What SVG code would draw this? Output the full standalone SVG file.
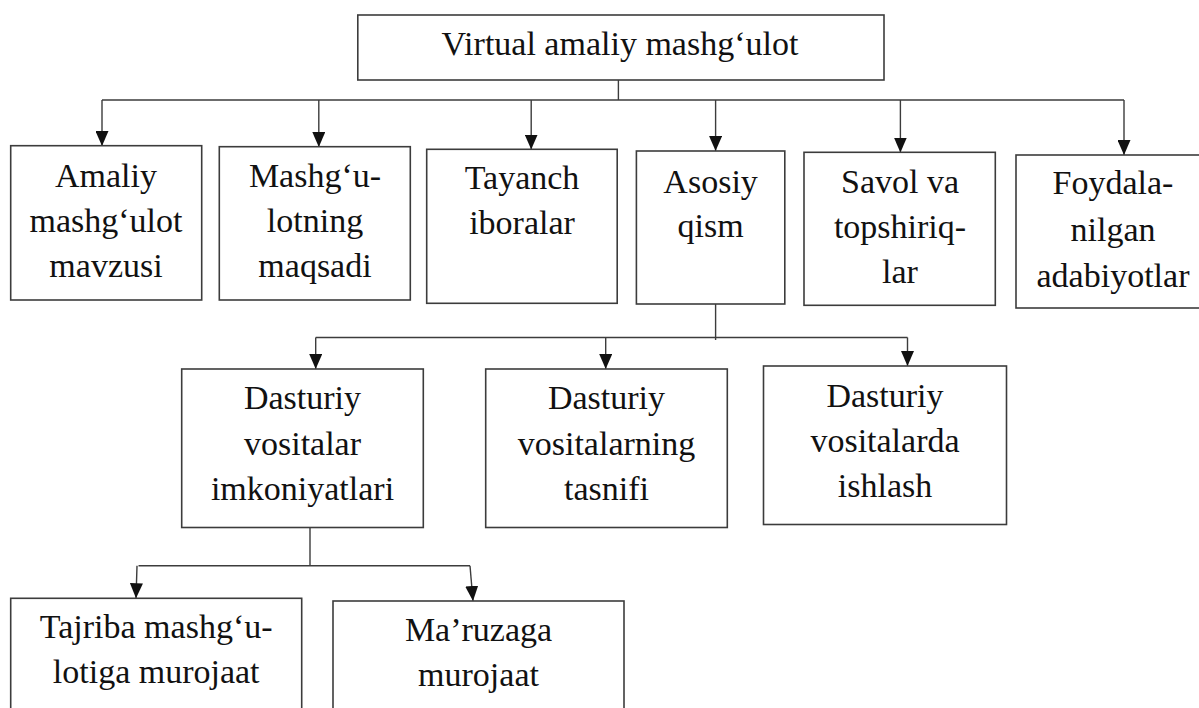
<svg xmlns="http://www.w3.org/2000/svg" width="1199" height="708" viewBox="0 0 1199 708">
<style>
.box{fill:#fff;stroke:#3c3c3c;stroke-width:1.6}
.t{font-family:'Liberation Serif','Times New Roman',serif;font-size:34px;fill:#111;text-anchor:middle}
.c{fill:none;stroke:#3c3c3c;stroke-width:1.4}
</style>
<defs>
<marker id="ah" markerUnits="userSpaceOnUse" markerWidth="15" markerHeight="13" viewBox="0 0 15 13" refX="15" refY="6.5" orient="auto">
<path d="M0,0 L15,6.5 L0,13 z" fill="#111"/>
</marker>
</defs>
<rect width="1199" height="708" fill="#fff"/>
<g id="connectors">
<path class="c" d="M618.4,80 V100 M102,100 H1124"/>
<line class="c" x1="102" y1="100" x2="102" y2="146" marker-end="url(#ah)"/>
<line class="c" x1="318.8" y1="100" x2="318.8" y2="147" marker-end="url(#ah)"/>
<line class="c" x1="531.2" y1="100" x2="531.2" y2="149.5" marker-end="url(#ah)"/>
<line class="c" x1="715.6" y1="100" x2="715.6" y2="151" marker-end="url(#ah)"/>
<line class="c" x1="900.4" y1="100" x2="900.4" y2="152.5" marker-end="url(#ah)"/>
<line class="c" x1="1124" y1="100" x2="1124" y2="155" marker-end="url(#ah)"/>
<path class="c" d="M715.6,304 V340 M315.7,337.5 H907.5"/>
<line class="c" x1="315.7" y1="337.5" x2="315.7" y2="369" marker-end="url(#ah)"/>
<line class="c" x1="605.7" y1="337.5" x2="605.7" y2="369" marker-end="url(#ah)"/>
<line class="c" x1="907.5" y1="337.5" x2="907.5" y2="366" marker-end="url(#ah)"/>
<path class="c" d="M310,527.5 V565.7 M138.5,565.7 H470"/>
<line class="c" x1="137" y1="565.7" x2="136" y2="598.3" marker-end="url(#ah)"/>
<line class="c" x1="470" y1="565.7" x2="473" y2="601" marker-end="url(#ah)"/>
</g>
<g id="n0">
<rect class="box" x="357.8" y="15" width="526.2" height="65"/>
<text class="t" x="620" y="55">Virtual amaliy mashg‘ulot</text>
</g>
<g id="n1">
<rect class="box" x="10.7" y="145.7" width="191" height="154.3"/>
<text class="t" x="106" y="186.7">Amaliy</text>
<text class="t" x="106" y="231.7">mashg‘ulot</text>
<text class="t" x="106" y="276.7">mavzusi</text>
</g>
<g id="n2">
<rect class="box" x="219.3" y="146.7" width="191" height="153.3"/>
<text class="t" x="315" y="186.7">Mashg‘u-</text>
<text class="t" x="315" y="231.7">lotning</text>
<text class="t" x="315" y="276.7">maqsadi</text>
</g>
<g id="n3">
<rect class="box" x="426.7" y="149.3" width="190.5" height="154"/>
<text class="t" x="522" y="189">Tayanch</text>
<text class="t" x="522" y="233.5">iboralar</text>
</g>
<g id="n4">
<rect class="box" x="636.4" y="151" width="148.4" height="153"/>
<text class="t" x="710.6" y="192.7">Asosiy</text>
<text class="t" x="710.6" y="237">qism</text>
</g>
<g id="n5">
<rect class="box" x="804" y="152.3" width="191.3" height="153"/>
<text class="t" x="900" y="192.7">Savol va</text>
<text class="t" x="900" y="238.3">topshiriq-</text>
<text class="t" x="900" y="283.3">lar</text>
</g>
<g id="n6">
<rect class="box" x="1016" y="155" width="194" height="153"/>
<text class="t" x="1113" y="194">Foydala-</text>
<text class="t" x="1113" y="240.5">nilgan</text>
<text class="t" x="1113" y="286.5">adabiyotlar</text>
</g>
<g id="n7">
<rect class="box" x="181.7" y="369" width="241.6" height="158.5"/>
<text class="t" x="302.5" y="409">Dasturiy</text>
<text class="t" x="302.5" y="455">vositalar</text>
<text class="t" x="302.5" y="500">imkoniyatlari</text>
</g>
<g id="n8">
<rect class="box" x="485.7" y="369" width="241.6" height="158.5"/>
<text class="t" x="606.5" y="409">Dasturiy</text>
<text class="t" x="606.5" y="455">vositalarning</text>
<text class="t" x="606.5" y="500">tasnifi</text>
</g>
<g id="n9">
<rect class="box" x="763.5" y="366" width="243" height="158.5"/>
<text class="t" x="885" y="406.5">Dasturiy</text>
<text class="t" x="885" y="452">vositalarda</text>
<text class="t" x="885" y="497">ishlash</text>
</g>
<g id="n10">
<rect class="box" x="10.7" y="598.3" width="291" height="130"/>
<text class="t" x="156.2" y="638.3">Tajriba mashg‘u-</text>
<text class="t" x="156.2" y="683.3">lotiga murojaat</text>
</g>
<g id="n11">
<rect class="box" x="333" y="601" width="291" height="130"/>
<text class="t" x="478.5" y="640.7">Ma’ruzaga</text>
<text class="t" x="478.5" y="685.7">murojaat</text>
</g>
</svg>
